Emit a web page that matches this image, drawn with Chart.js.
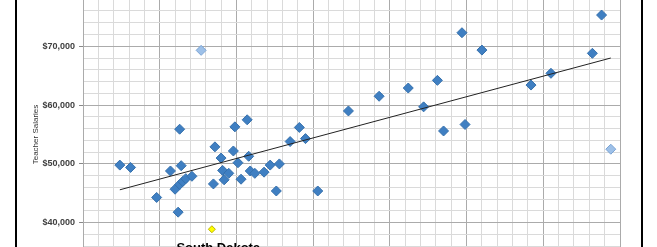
<!DOCTYPE html>
<html>
<head>
<meta charset="utf-8">
<script src="https://cdn.jsdelivr.net/npm/chart.js@4.4.0/dist/chart.umd.min.js"></script>
<style>
    html, body { margin: 0; padding: 0; background: #fff; }
    #wrap { position: relative; width: 657px; height: 247px; overflow: hidden; }
    #myChart { position: absolute; left: 0; top: -22px; }
    #frame { position: absolute; left: 15px; top: -5px; width: 624px; height: 260px;
             border-left: 2px solid #000; border-right: 2px solid #000; pointer-events: none; }
</style>
</head>
<body>
<div id="wrap">
    <canvas id="myChart" width="657" height="313"></canvas>
    <div id="frame"></div>
</div>
<script>
// median household income (x) vs teacher salaries (y)
var incomeStates = [37400, 38100, 39800, 40700, 41000, 41200, 41300, 41400, 41300, 41500, 41700, 42100,
    43500, 43600, 44000, 44100, 44200, 44500, 44800, 44900, 45100, 45300, 45700, 45800, 45900, 46200,
    46800, 47200, 47600, 47800, 48500, 49100, 49500, 50300, 52300, 54300, 56200, 57200, 58100, 58500,
    59700, 59900, 61000, 64200, 65500, 68200, 68800];
var salaryStates = [49800, 49400, 44300, 48800, 45700, 41800, 55900, 49700, 46500, 47000, 47500, 47900,
    46600, 52900, 51000, 48900, 47300, 48400, 52200, 56300, 50200, 47400, 57500, 51300, 48800, 48400,
    48600, 49800, 45400, 50000, 53800, 56200, 54300, 45400, 59000, 61500, 62900, 59700, 64200, 55600,
    72300, 56700, 69350, 63400, 65400, 68800, 75300];

var incomeOther = [42700, 69400];
var salaryOther = [69300, 52500];

var incomeSD = [43400];
var salarySD = [38900];
var labelSD = 'South Dakota';

var trendIncome = [37400, 69400];
var trendSalary = [45600, 68000];

var yLabelValues = [40000, 50000, 60000, 70000];

function pairs(xs, ys) {
    var out = [];
    for (var i = 0; i < xs.length; i++) {
        out.push({x: xs[i], y: ys[i]});
    }
    return out;
}

function money(v) {
    return '$' + v.toLocaleString('en-US');
}

var sdLabel = {
    id: 'sdLabel',
    afterDatasetsDraw: function (chart) {
        var pt = chart.getDatasetMeta(3).data[0];
        var ctx = chart.ctx;
        ctx.save();
        ctx.font = 'bold 13px "Liberation Sans", Arial, sans-serif';
        ctx.fillStyle = '#000';
        ctx.textAlign = 'left';
        ctx.textBaseline = 'alphabetic';
        ctx.fillText(labelSD, pt.x - 35.5, pt.y + 23);
        ctx.restore();
    }
};

var ctx = document.getElementById('myChart').getContext('2d');
var chart = new Chart(ctx, {
    type: 'scatter',
    data: {
        datasets: [{
            type: 'line',
            label: 'Trend',
            data: pairs(trendIncome, trendSalary),
            borderColor: '#222',
            borderWidth: 1,
            pointRadius: 0,
            fill: false,
            order: 0
        }, {
            label: 'States',
            data: pairs(incomeStates, salaryStates),
            pointStyle: 'rectRot',
            pointRadius: 5,
            backgroundColor: '#3F7FC2',
            borderColor: '#3570AC',
            borderWidth: 1,
            order: 1
        }, {
            label: 'Other',
            data: pairs(incomeOther, salaryOther),
            pointStyle: 'rectRot',
            pointRadius: 5,
            backgroundColor: '#9DC0E8',
            borderColor: '#7AA3D3',
            borderWidth: 1,
            order: 1
        }, {
            label: labelSD,
            data: pairs(incomeSD, salarySD),
            pointStyle: 'rectRot',
            pointRadius: 3.5,
            backgroundColor: '#FFFF00',
            borderColor: '#BDB300',
            borderWidth: 1,
            order: 1
        }]
    },
    options: {
        responsive: false,
        animation: false,
        layout: { padding: { left: 0, right: 37, top: 0, bottom: 0 } },
        plugins: {
            legend: { display: false },
            tooltip: { enabled: false }
        },
        scales: {
            x: {
                type: 'linear',
                min: 35000,
                max: 70000,
                ticks: { display: false, stepSize: 1000 },
                border: { display: false },
                grid: {
                    drawTicks: false,
                    color: function (c) {
                        return c.tick && c.tick.value % 5000 === 0 ? '#ABABAB' : '#DADADA';
                    }
                },
                afterFit: function (scale) { scale.height = 0; }
            },
            y: {
                min: 30000,
                max: 80000,
                ticks: {
                    stepSize: 2000,
                    padding: 4,
                    color: '#404040',
                    font: { family: '"Liberation Sans", Arial, sans-serif', size: 9, weight: 'bold' },
                    autoSkip: false,
                    callback: function (v) {
                        return yLabelValues.indexOf(v) >= 0 ? money(v) : '';
                    }
                },
                border: { color: '#ABABAB', width: 1 },
                grid: {
                    tickLength: 4,
                    color: function (c) {
                        return c.tick && c.tick.value % 10000 === 0 ? '#ABABAB' : '#DADADA';
                    },
                    tickColor: function (c) {
                        return c.tick && yLabelValues.indexOf(c.tick.value) >= 0 ? '#888' : 'rgba(0,0,0,0)';
                    }
                },
                title: {
                    display: true,
                    text: 'Teacher Salaries',
                    color: '#333',
                    font: { family: '"Liberation Sans", Arial, sans-serif', size: 8 },
                    padding: { top: 31, bottom: 0 }
                },
                afterFit: function (scale) { scale.width = 83; }
            }
        }
    },
    plugins: [sdLabel]
});
</script>
</body>
</html>
